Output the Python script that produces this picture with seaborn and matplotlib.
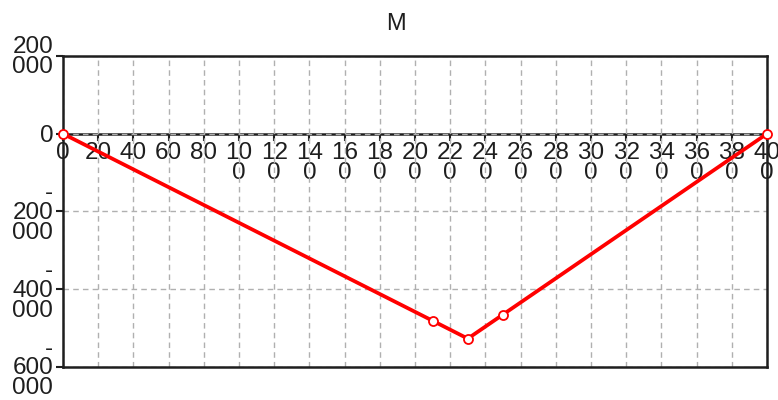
import matplotlib
matplotlib.use("Agg")
import matplotlib.pyplot as plt
from matplotlib import font_manager
import seaborn as sns

# Bending moment along the beam
position = [0, 210, 230, 250, 400]
moment = [0, -481000, -527000, -465000, 0]

x_ticks = list(range(0, 401, 20))
x_tick_labels = ["0", "20", "40", "60", "80", "10\n0", "12\n0", "14\n0", "16\n0", "18\n0",
                 "20\n0", "22\n0", "24\n0", "26\n0", "28\n0", "30\n0", "32\n0", "34\n0",
                 "36\n0", "38\n0", "40\n0"]
y_ticks = [200000, 0, -200000, -400000, -600000]
y_tick_labels = ["200\n000", "0", "-\n200\n000", "-\n400\n000", "-\n600\n000"]

sns.set_theme(style="white")
available = {f.name for f in font_manager.fontManager.ttflist}
family = "Liberation Sans Narrow" if "Liberation Sans Narrow" in available else "Liberation Sans"
plt.rcParams["font.family"] = [family, "DejaVu Sans"]

TICK_SIZE = 17.5
INK = "#1e1e1e"

fig = plt.figure(figsize=(7.78, 4.0), dpi=100)
ax = fig.add_axes([63 / 778, 1 - 367 / 400, 704 / 778, 311 / 400])

sns.lineplot(x=position, y=moment, ax=ax, color="#ff0000", linewidth=2.7,
             marker="o", markersize=6.5, markerfacecolor="white",
             markeredgecolor="#ff0000", markeredgewidth=1.3, sort=False,
             estimator=None, clip_on=False, zorder=5)

ax.set_xlim(0, 400)
ax.set_ylim(-600000, 200000)
ax.set_xlabel("")
ax.set_ylabel("")

# grid
ax.set_xticks(x_ticks)
ax.set_xticklabels([])
ax.tick_params(axis="x", bottom=False, labelbottom=False)
ax.set_yticks(y_ticks)
ax.set_yticklabels(y_tick_labels, fontsize=TICK_SIZE, linespacing=0.88, color=INK)
for lbl in ax.get_yticklabels():
    lbl.set_y(lbl.get_position()[1])
ax.tick_params(axis="y", left=True, direction="out", length=5, width=1.5,
               color=INK, pad=2)
ax.grid(True, color="#b0b0b0", linestyle=(0, (4, 3)), linewidth=1.0)

for s in ax.spines.values():
    s.set_color(INK)
    s.set_linewidth(1.8)

# x axis drawn through zero
zero_frac = (0 - (-600000)) / 800000
sec = ax.secondary_xaxis(zero_frac)
sec.set_xticks(x_ticks)
sec.set_xticklabels(x_tick_labels, fontsize=TICK_SIZE, linespacing=0.88, color=INK)
sec.tick_params(axis="x", direction="out", length=5, width=1.5, color=INK,
                pad=1, bottom=True, top=False, labelbottom=True, labeltop=False)
sec.xaxis.set_ticks_position("bottom")
sec.xaxis.set_label_position("bottom")
for name, s in sec.spines.items():
    s.set_color(INK)
    s.set_linewidth(1.8)

fig.text(396 / 778, 1 - 24 / 400, "M", ha="center", va="center", fontsize=17,
         color=INK, family=["Liberation Sans", "DejaVu Sans"])

fig.savefig("out.png", dpi=100)
